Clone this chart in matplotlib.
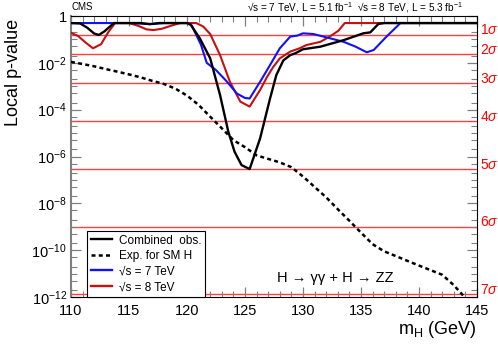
import matplotlib
matplotlib.use("Agg")
import matplotlib.pyplot as plt
import matplotlib.ticker as mticker
from matplotlib.lines import Line2D
import matplotlib.transforms as mtransforms

plt.rcParams['font.family'] = ['Liberation Sans', 'DejaVu Sans']
plt.rcParams['mathtext.fontset'] = 'custom'
plt.rcParams['mathtext.rm'] = 'Liberation Sans'
plt.rcParams['mathtext.it'] = 'Liberation Sans:italic'
plt.rcParams['mathtext.bf'] = 'Liberation Sans:bold'

# ---- data ----
obs_mass = [110, 110.8, 111.4, 112.0, 112.4, 112.9, 113.7, 116.0, 116.8, 117.6, 120.0,
            120.3, 121.1, 122.0, 122.85, 123.56, 124.1, 124.7, 125.4, 126.3, 127.16,
            127.7, 128.3, 128.9, 129.3, 130.0, 131.5, 133.5, 135.2, 135.8, 136.5, 137.0, 145]
obs_p = [0.5, 0.479, 0.316, 0.178, 0.155, 0.224, 0.5, 0.5, 0.447, 0.5, 0.5,
         0.437, 0.112, 0.0155, 4.2e-4, 1.15e-5, 1.6e-6, 4.3e-7, 2.9e-7, 5.9e-6, 3.0e-4,
         3.0e-3, 0.0126, 0.0214, 0.0251, 0.038, 0.049, 0.093, 0.182, 0.2, 0.457, 0.5, 0.5]

exp_mass = [110, 111, 112, 113, 114, 115, 116, 117, 118, 119, 120, 121, 122, 123, 124,
            125, 126, 127, 128, 129, 130, 131, 132, 133, 134, 135, 136, 137, 138, 139,
            140, 141, 142, 143, 144.2]
exp_p = [1.1e-2, 8.9e-3, 7.1e-3, 5.4e-3, 4.2e-3, 3.2e-3, 2.4e-3, 1.7e-3, 1.26e-3, 7.9e-4,
         4.0e-4, 1.6e-4, 5.0e-5, 1.6e-5, 5.0e-6, 2.5e-6, 1.12e-6, 7.9e-7, 5.6e-7, 3.5e-7,
         1.4e-7, 5.0e-8, 1.8e-8, 5.6e-9, 1.8e-9, 5.6e-10, 1.8e-10, 8.9e-11, 5.6e-11,
         3.5e-11, 2.2e-11, 1.4e-11, 8.9e-12, 3.2e-12, 7.0e-13]

s7_mass = [110, 115.3, 116.2, 117.0, 118.0, 120.0, 120.4, 121.2, 121.7, 122.5, 123.4,
           124.3, 125.0, 125.4, 126.3, 127.15, 128.0, 128.9, 129.5, 130.0, 130.9, 132.0,
           133.5, 134.5, 135.5, 136.1, 137.2, 138.4, 145]
s7_p = [0.5, 0.5, 0.468, 0.457, 0.5, 0.5, 0.398, 0.06, 0.01, 4.9e-3, 1.66e-3,
        4.9e-4, 3.16e-4, 3.0e-4, 1.55e-3, 7.9e-3, 0.0417, 0.132, 0.145, 0.182, 0.17, 0.123,
        0.079, 0.05, 0.0282, 0.0355, 0.132, 0.5, 0.5]

s8_mass = [110, 110.6, 111.3, 111.9, 112.6, 113.2, 113.8, 115.0, 115.8, 116.5, 117.1,
           117.8, 118.6, 119.4, 120.8, 121.4, 122.0, 122.85, 123.7, 124.6, 125.4, 126.3,
           126.9, 127.4, 128.0, 128.5, 128.9, 129.7, 130.3, 131.5, 132.3, 133.05, 133.6, 145]
s8_p = [0.19, 0.141, 0.0708, 0.0417, 0.063, 0.2, 0.5, 0.5, 0.38, 0.269, 0.251,
        0.282, 0.38, 0.5, 0.5, 0.355, 0.17, 0.0214, 1.55e-3, 2.2e-4, 1.35e-4, 6.9e-4,
        2.5e-3, 6.3e-3, 0.0155, 0.0224, 0.0302, 0.0417, 0.0575, 0.079, 0.132, 0.234, 0.5, 0.5]

sigma_labels = ['1$\\sigma$', '2$\\sigma$', '3$\\sigma$', '4$\\sigma$', '5$\\sigma$', '6$\\sigma$', '7$\\sigma$']
sigma_p = [0.1587, 0.02275, 1.35e-3, 3.17e-5, 2.87e-7, 9.87e-10, 1.28e-12]

ytick_vals = [1, 1e-2, 1e-4, 1e-6, 1e-8, 1e-10, 1e-12]
ytick_labels = ['1', '$10^{-2}$', '$10^{-4}$', '$10^{-6}$', '$10^{-8}$', '$10^{-10}$', '$10^{-12}$']

# ---- figure ----
W, H = 498, 344
fig = plt.figure(figsize=(W / 100, H / 100), dpi=100)
ax = fig.add_axes([71 / W, 1 - 297 / H, (477 - 71) / W, (297 - 16) / H])
ax.set_yscale('log')
ax.set_xlim(110, 145)
ax.set_ylim(1e-12, 1)

red_line = (1.0, 0.25, 0.25)
for p in sigma_p:
    ax.axhline(p, color=red_line, lw=1.0, zorder=1)

ax.plot(s8_mass, s8_p, color='#c41010', lw=1.5, zorder=3)
ax.plot(s7_mass, s7_p, color='#1010ff', lw=1.5, zorder=3)
ax.plot(exp_mass, exp_p, color='black', lw=1.8, ls=(0, (1.6, 1.3)), zorder=4)
ax.plot(obs_mass, obs_p, color='black', lw=1.7, zorder=5)

# sigma labels on right
off = mtransforms.offset_copy(ax.get_yaxis_transform(), fig=fig, x=3, y=4.5, units='dots')
for lab, p in zip(sigma_labels, sigma_p):
    ax.text(1.0, p, lab, transform=off, color='red', fontsize=10, ha='left', va='center')

# ticks
ax.xaxis.set_major_locator(mticker.MultipleLocator(5))
ax.xaxis.set_minor_locator(mticker.MultipleLocator(1))
ax.set_yticks(ytick_vals)
ax.set_yticklabels(ytick_labels)
ax.yaxis.set_minor_locator(mticker.FixedLocator(
    [10.0 ** e for e in range(-11, 0, 2)] + [m * 10.0 ** e for e in range(-12, 0) for m in (2, 5)]))
ax.yaxis.set_minor_formatter(mticker.NullFormatter())
ax.tick_params(which='both', direction='in', top=True, right=True, color='#808080')
ax.tick_params(which='major', length=7, width=0.9, labelsize=10.5, pad=3)
ax.tick_params(which='minor', length=4, width=0.8)
ax.tick_params(axis='x', which='major', pad=5)
for s in ['top', 'right', 'bottom']:
    ax.spines[s].set_color('black')
ax.spines['left'].set_color('#808080')
ax.spines['left'].set_linewidth(1.5)

# labels
fig.text(14 / W, 1 - 72 / H, 'Local p-value', rotation=90, ha='center', va='center', fontsize=13)
fig.text(477 / W, 1 - 330 / H, '$\\mathrm{m_H}$ (GeV)', ha='right', va='center', fontsize=13)
fig.text(72 / W, 1 - 7 / H, 'CMS', ha='left', va='center', fontsize=7)
fig.text(463 / W, 1 - 8 / H, '\u221as = 7 TeV, L = 5.1 fb$^{-1}$  \u221as = 8 TeV, L = 5.3 fb$^{-1}$',
         ha='right', va='center', fontsize=7.2)
fig.text(277 / W, 1 - 278 / H, 'H \u2192 \u03b3\u03b3 + H \u2192 ZZ', ha='left', va='center', fontsize=10.5)

handles = [Line2D([], [], color='black', lw=1.7),
           Line2D([], [], color='black', lw=1.8, ls=(0, (1.6, 1.3))),
           Line2D([], [], color='#1010ff', lw=1.7),
           Line2D([], [], color='#c41010', lw=1.7)]
labels = ['Combined  obs.', 'Exp. for SM H', '\u221as = 7 TeV', '\u221as = 8 TeV']
leg = ax.legend(handles, labels, loc='upper left', bbox_to_anchor=(87 / W, 1 - 231 / H),
                bbox_transform=fig.transFigure, borderaxespad=0, fontsize=8.5,
                handlelength=1.8, handletextpad=0.6, labelspacing=0.3, borderpad=0.3,
                fancybox=False, framealpha=1, edgecolor='black')
leg.get_frame().set_linewidth(0.8)
leg.set_zorder(10)

fig.savefig('out.png', dpi=100)
